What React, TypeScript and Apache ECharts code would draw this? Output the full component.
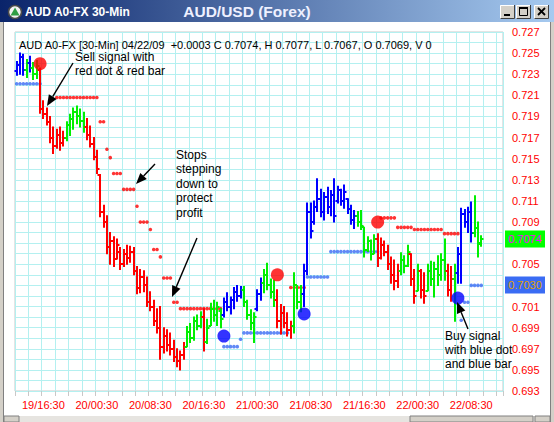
import React, { useEffect, useRef } from 'react';
import * as echarts from 'echarts';

const WIDTH = 554;
const HEIGHT = 422;
const FONT = '"Liberation Sans", Arial, sans-serif';

// 30-minute bars, first bar at 19/12:30
const FIRST_BAR = { day: 19, hour: 12, minute: 30 };
const SLOT_COUNT = 146;
const TICK_LABELS = ['19/16:30', '20/00:30', '20/08:30', '20/16:30', '21/00:30', '21/08:30', '21/16:30', '22/00:30', '22/08:30'];

const Y_MIN = 0.693;
const Y_MAX = 0.727;

const OPEN = [
  0.7233, 0.7239, 0.7246, 0.7234, 0.7241, 0.7236, 0.7230, 0.7234, 0.7197, 0.7192,
  0.7185, 0.7170, 0.7162, 0.7172, 0.7165, 0.7170, 0.7182, 0.7188, 0.7194, 0.7190,
  0.7186, 0.7180, 0.7172, 0.7164, 0.7152, 0.7135, 0.7100, 0.7090, 0.7066, 0.7072,
  0.7055, 0.7062, 0.7050, 0.7060, 0.7056, 0.7062, 0.7044, 0.7028, 0.7038, 0.7030,
  0.7014, 0.7010, 0.6996, 0.6990, 0.6972, 0.6982, 0.6974, 0.6970, 0.6962, 0.6958,
  0.6964, 0.6972, 0.6986, 0.6980, 0.6996, 0.6992, 0.7000, 0.6976, 0.6992, 0.7008,
  0.7002, 0.7006, 0.7002, 0.7014, 0.7010, 0.7016, 0.7024, 0.7020, 0.7026, 0.7014,
  0.7002, 0.6994, 0.7008, 0.7022, 0.7032, 0.7040, 0.7030, 0.7024, 0.7016, 0.6996,
  0.7004, 0.6994, 0.6988, 0.6992, 0.7030, 0.7014, 0.7022, 0.7044, 0.7100, 0.7090,
  0.7104, 0.7112, 0.7100, 0.7114, 0.7104, 0.7116, 0.7110, 0.7120, 0.7110, 0.7112,
  0.7102, 0.7092, 0.7096, 0.7090, 0.7085, 0.7064, 0.7072, 0.7060, 0.7074, 0.7056,
  0.7068, 0.7062, 0.7050, 0.7040, 0.7034, 0.7044, 0.7054, 0.7048, 0.7060, 0.7036,
  0.7025, 0.7044, 0.7026, 0.7025, 0.7044, 0.7036, 0.7046, 0.7040, 0.7054, 0.7044,
  0.7026, 0.7036, 0.7042, 0.7060, 0.7098, 0.7090, 0.7100, 0.7080, 0.7084, 0.7069,
];
const HIGH = [
  0.7242, 0.7250, 0.7249, 0.7244, 0.7247, 0.7241, 0.7243, 0.7236, 0.7205, 0.7198,
  0.7190, 0.7180, 0.7178, 0.7180, 0.7176, 0.7185, 0.7192, 0.7198, 0.7200, 0.7197,
  0.7194, 0.7188, 0.7181, 0.7170, 0.7158, 0.7135, 0.7106, 0.7096, 0.7080, 0.7076,
  0.7074, 0.7066, 0.7064, 0.7068, 0.7067, 0.7066, 0.7048, 0.7045, 0.7044, 0.7038,
  0.7024, 0.7016, 0.7008, 0.7010, 0.6990, 0.6988, 0.6985, 0.6978, 0.6970, 0.6968,
  0.6976, 0.6991, 0.6994, 0.7000, 0.7002, 0.7005, 0.7008, 0.6998, 0.7013, 0.7016,
  0.7014, 0.7008, 0.7018, 0.7023, 0.7019, 0.7028, 0.7030, 0.7029, 0.7029, 0.7016,
  0.7007, 0.7004, 0.7026, 0.7037, 0.7045, 0.7051, 0.7036, 0.7035, 0.7026, 0.7012,
  0.7010, 0.7004, 0.6996, 0.7042, 0.7030, 0.7030, 0.7050, 0.7108, 0.7108, 0.7110,
  0.7131, 0.7121, 0.7118, 0.7123, 0.7120, 0.7131, 0.7124, 0.7121, 0.7125, 0.7112,
  0.7106, 0.7101, 0.7100, 0.7101, 0.7085, 0.7076, 0.7073, 0.7078, 0.7079, 0.7075,
  0.7072, 0.7068, 0.7057, 0.7054, 0.7050, 0.7061, 0.7058, 0.7068, 0.7060, 0.7045,
  0.7050, 0.7045, 0.7042, 0.7050, 0.7053, 0.7052, 0.7058, 0.7060, 0.7074, 0.7050,
  0.7048, 0.7050, 0.7066, 0.7103, 0.7102, 0.7104, 0.7109, 0.7115, 0.7090, 0.7077,
];
const LOW = [
  0.7229, 0.7230, 0.7229, 0.7227, 0.7232, 0.7225, 0.7226, 0.7193, 0.7188, 0.7182,
  0.7165, 0.7155, 0.7160, 0.7158, 0.7162, 0.7167, 0.7172, 0.7178, 0.7183, 0.7180,
  0.7175, 0.7168, 0.7161, 0.7149, 0.7136, 0.7095, 0.7085, 0.7060, 0.7050, 0.7048,
  0.7055, 0.7045, 0.7048, 0.7050, 0.7052, 0.7040, 0.7022, 0.7023, 0.7024, 0.7010,
  0.7006, 0.6992, 0.6985, 0.6960, 0.6966, 0.6968, 0.6964, 0.6958, 0.6953, 0.6950,
  0.6960, 0.6972, 0.6976, 0.6978, 0.6988, 0.6990, 0.6968, 0.6975, 0.6992, 0.6996,
  0.6992, 0.6990, 0.7000, 0.7006, 0.7003, 0.7008, 0.7015, 0.7018, 0.7010, 0.6998,
  0.6988, 0.6976, 0.7006, 0.7016, 0.7023, 0.7026, 0.7018, 0.7010, 0.6990, 0.6984,
  0.6990, 0.6982, 0.6980, 0.6985, 0.7008, 0.7005, 0.7010, 0.7040, 0.7075, 0.7088,
  0.7100, 0.7095, 0.7092, 0.7098, 0.7096, 0.7090, 0.7108, 0.7106, 0.7103, 0.7098,
  0.7088, 0.7084, 0.7086, 0.7083, 0.7057, 0.7062, 0.7054, 0.7060, 0.7048, 0.7055,
  0.7058, 0.7045, 0.7032, 0.7026, 0.7028, 0.7040, 0.7042, 0.7048, 0.7030, 0.7013,
  0.7025, 0.7018, 0.7013, 0.7025, 0.7030, 0.7019, 0.7030, 0.7035, 0.7035, 0.7020,
  0.7015, 0.6996, 0.7032, 0.7032, 0.7085, 0.7080, 0.7071, 0.7076, 0.7057, 0.7067,
];
const CLOSE = [
  0.7239, 0.7246, 0.7234, 0.7241, 0.7236, 0.7230, 0.7238, 0.7197, 0.7192, 0.7185,
  0.7170, 0.7162, 0.7172, 0.7165, 0.7170, 0.7182, 0.7188, 0.7194, 0.7190, 0.7186,
  0.7180, 0.7172, 0.7164, 0.7152, 0.7140, 0.7100, 0.7090, 0.7066, 0.7072, 0.7055,
  0.7068, 0.7050, 0.7060, 0.7056, 0.7062, 0.7044, 0.7028, 0.7038, 0.7030, 0.7014,
  0.7010, 0.6996, 0.6990, 0.6972, 0.6982, 0.6974, 0.6970, 0.6962, 0.6958, 0.6964,
  0.6972, 0.6986, 0.6980, 0.6996, 0.6992, 0.7000, 0.6976, 0.6990, 0.7008, 0.7002,
  0.7010, 0.6998, 0.7014, 0.7010, 0.7016, 0.7024, 0.7020, 0.7026, 0.7014, 0.7002,
  0.6994, 0.7000, 0.7022, 0.7032, 0.7040, 0.7030, 0.7024, 0.7016, 0.6996, 0.7004,
  0.6994, 0.6988, 0.6992, 0.7030, 0.7014, 0.7022, 0.7044, 0.7100, 0.7082, 0.7104,
  0.7112, 0.7100, 0.7114, 0.7104, 0.7116, 0.7096, 0.7120, 0.7110, 0.7118, 0.7102,
  0.7092, 0.7096, 0.7090, 0.7086, 0.7064, 0.7072, 0.7060, 0.7074, 0.7056, 0.7068,
  0.7062, 0.7050, 0.7040, 0.7034, 0.7044, 0.7054, 0.7048, 0.7062, 0.7036, 0.7020,
  0.7044, 0.7026, 0.7020, 0.7044, 0.7036, 0.7046, 0.7040, 0.7054, 0.7044, 0.7026,
  0.7036, 0.7042, 0.7060, 0.7098, 0.7090, 0.7100, 0.7080, 0.7084, 0.7070, 0.7074,
];

// b = long (blue), g = neutral (green), r = short (red)
const BAR_STATE = [
  'bbbgbgg', 'rrrrrrrr', 'gggggg', 'rrrrrrrrrrrrrrrrrrrrrrrrrrrrrr', 'ggggg', 'r', 'ggggg',
  'bbbbbb', 'gggg', 'bb', 'gggg', 'rrrrr', 'ggg', 'bbbbbbbbbbbbbbbb', 'gggggg', 'rrrrrrr',
  'ggg', 'rr', 'g', 'rr', 'gggggg', 'rr', 'g', 'bbbbb', 'ggg',
].join('');

// trailing stops: [first bar, last bar, level]
const RED_STOP_RUNS = [
  [12, 24, 0.7208], [25, 26, 0.7185], [27, 27, 0.7159], [28, 28, 0.7151], [29, 31, 0.7136],
  [32, 35, 0.7121], [36, 36, 0.7105], [37, 39, 0.7090], [40, 40, 0.7083], [41, 42, 0.7064],
  [43, 43, 0.7057], [44, 46, 0.7037], [47, 48, 0.7014], [49, 61, 0.7008], [82, 86, 0.7028],
  [109, 113, 0.7094], [114, 118, 0.7085], [119, 127, 0.7083], [128, 132, 0.7079],
];
const BLUE_STOP_RUNS = [
  [0, 7, 0.7221], [62, 66, 0.6972], [67, 67, 0.6979], [68, 81, 0.6985], [87, 93, 0.7038],
  [94, 108, 0.7062], [133, 133, 0.6997], [134, 135, 0.7014], [136, 139, 0.7030],
];

// signal dots: [bar, price]
const SELL_SIGNALS = [[7, 0.7240], [78, 0.7040], [108, 0.7090]];
const BUY_SIGNALS = [[62, 0.6982], [86, 0.7003], [132, 0.7018]];

const CHANGE = '+0.0003';
const CURRENT_STOP = 0.7030;

const BAR_COLORS: Record<string, string> = { r: '#ff0000', g: '#00f000', b: '#0000ff' };

function pad(n: number) {
  return n < 10 ? '0' + n : String(n);
}

function buildCategories(): string[] {
  const out: string[] = [];
  let day = FIRST_BAR.day;
  let minutes = FIRST_BAR.hour * 60 + FIRST_BAR.minute;
  for (let k = 0; k < SLOT_COUNT; k++) {
    out.push(`${day}/${pad(Math.floor(minutes / 60))}:${pad(minutes % 60)}`);
    minutes += 30;
    if (minutes >= 1440) {
      minutes -= 1440;
      day += 1;
    }
  }
  return out;
}

function expandRuns(runs: number[][]) {
  const pts: number[][] = [];
  runs.forEach(([a, b, level]) => {
    for (let i = a; i <= b; i++) pts.push([i, level]);
  });
  return pts;
}

function arrow(x1: number, y1: number, x2: number, y2: number) {
  const ang = Math.atan2(y2 - y1, x2 - x1);
  const len = 11;
  const half = 4.5;
  const bx = x2 - len * Math.cos(ang);
  const by = y2 - len * Math.sin(ang);
  const px = -Math.sin(ang) * half;
  const py = Math.cos(ang) * half;
  return [
    { type: 'line', z: 50, silent: true, shape: { x1, y1, x2: bx, y2: by }, style: { stroke: '#000', lineWidth: 1.4 } },
    {
      type: 'polygon', z: 50, silent: true,
      shape: { points: [[x2, y2], [bx + px, by + py], [bx - px, by - py]] },
      style: { fill: '#000' },
    },
  ];
}

function textLines(x: number, y0: number, step: number, lines: string[]) {
  return lines.map((t, k) => ({
    type: 'text', z: 50, silent: true, x, y: y0 + k * step,
    style: { text: t, fill: '#000', font: `12px ${FONT}`, lineHeight: 12, verticalAlign: 'middle', align: 'left' },
  }));
}

function button(x: number, y: number, glyph: 'min' | 'max' | 'close') {
  const w = 15;
  const h = 14;
  const parts: any[] = [
    { type: 'rect', z: 100, shape: { x, y, width: w, height: h }, style: { fill: '#d4d0c8' } },
    { type: 'polyline', z: 101, shape: { points: [[x + 0.5, y + h], [x + 0.5, y + 0.5], [x + w, y + 0.5]] }, style: { stroke: '#ffffff', lineWidth: 1, fill: null } },
    { type: 'polyline', z: 101, shape: { points: [[x + 0.5, y + h - 0.5], [x + w - 0.5, y + h - 0.5], [x + w - 0.5, y]] }, style: { stroke: '#404040', lineWidth: 1, fill: null } },
  ];
  if (glyph === 'min') {
    parts.push({ type: 'rect', z: 102, shape: { x: x + 4, y: y + 9, width: 6, height: 2 }, style: { fill: '#000' } });
  } else if (glyph === 'max') {
    parts.push({ type: 'rect', z: 102, shape: { x: x + 3.5, y: y + 2.5, width: 8, height: 8 }, style: { stroke: '#000', lineWidth: 1, fill: null } });
    parts.push({ type: 'rect', z: 102, shape: { x: x + 3, y: y + 2, width: 9, height: 2 }, style: { fill: '#000' } });
  } else {
    parts.push({ type: 'line', z: 102, shape: { x1: x + 4, y1: y + 3, x2: x + 11, y2: y + 10 }, style: { stroke: '#000', lineWidth: 1.8 } });
    parts.push({ type: 'line', z: 102, shape: { x1: x + 11, y1: y + 3, x2: x + 4, y2: y + 10 }, style: { stroke: '#000', lineWidth: 1.8 } });
  }
  return parts;
}

export default function App() {
  const ref = useRef<HTMLDivElement>(null);

  useEffect(() => {
    if (!ref.current) return;
    const chart = echarts.init(ref.current, undefined, { renderer: 'svg' });
    const categories = buildCategories();
    const last = CLOSE.length - 1;
    const lastClose = CLOSE[last];
    const hiddenTicks = [lastClose, CURRENT_STOP].map((v) => Math.round(v * 1000));

    const barData = OPEN.map((o, i) => [i, o, HIGH[i], LOW[i], CLOSE[i]]);

    const option: any = {
      animation: false,
      backgroundColor: '#ffffff',
      grid: {
        left: 15, right: 51, top: 32, bottom: 31,
        show: true, borderColor: '#c8c8c8', borderWidth: 1, backgroundColor: 'transparent',
      },
      xAxis: {
        type: 'category',
        data: categories,
        boundaryGap: true,
        axisLine: { show: false },
        axisTick: { show: true, interval: 3, length: 5, lineStyle: { color: '#c8c8c8' } },
        axisLabel: {
          interval: (_idx: number, val: string) => TICK_LABELS.includes(val),
          color: '#ff0000', fontSize: 11, fontFamily: FONT, margin: 8,
        },
        splitLine: { show: true, interval: 3, lineStyle: { color: '#b4f0f0', width: 1 } },
      },
      yAxis: {
        type: 'value',
        position: 'right',
        min: Y_MIN,
        max: Y_MAX,
        interval: 0.001,
        scale: true,
        axisLine: { show: false },
        axisTick: { show: false },
        axisLabel: {
          color: '#ff0000', fontSize: 11, fontFamily: FONT, margin: 9,
          formatter: (v: number) => {
            const k = Math.round(v * 1000);
            if (k % 2 === 0) return '';
            if (hiddenTicks.includes(k)) return '';
            return (k / 1000).toFixed(3);
          },
        },
        splitLine: { show: true, lineStyle: { color: '#b4f0f0', width: 1 } },
      },
      series: [
        {
          type: 'scatter', name: 'short stop', silent: true, z: 2,
          symbol: 'circle', symbolSize: 3.6,
          itemStyle: { color: '#ff0000' },
          data: expandRuns(RED_STOP_RUNS),
        },
        {
          type: 'scatter', name: 'long stop', silent: true, z: 2,
          symbol: 'circle', symbolSize: 3.6,
          itemStyle: { color: '#3a6cf4' },
          data: expandRuns(BLUE_STOP_RUNS),
        },
        {
          type: 'custom', name: 'bars', silent: true, z: 3,
          encode: { x: 0, y: [1, 2, 3, 4] },
          data: barData,
          renderItem: (_params: any, api: any) => {
            const i = api.value(0);
            const color = BAR_COLORS[BAR_STATE[i]] || '#000';
            const x = Math.round(api.coord([i, api.value(2)])[0]);
            const yh = api.coord([i, api.value(2)])[1];
            const yl = api.coord([i, api.value(3)])[1];
            const yo = Math.round(api.coord([i, api.value(1)])[1]);
            const yc = Math.round(api.coord([i, api.value(4)])[1]);
            return {
              type: 'group',
              children: [
                { type: 'line', shape: { x1: x, y1: yh - 0.5, x2: x, y2: yl + 0.5 }, style: { stroke: color, lineWidth: 2 } },
                { type: 'line', shape: { x1: x - 2.5, y1: yo, x2: x, y2: yo }, style: { stroke: color, lineWidth: 2 } },
                { type: 'line', shape: { x1: x, y1: yc, x2: x + 2.5, y2: yc }, style: { stroke: color, lineWidth: 2 } },
              ],
            };
          },
        },
        {
          type: 'scatter', name: 'sell signal', silent: true, z: 5,
          symbol: 'circle', symbolSize: 13,
          itemStyle: { color: '#ff0000' },
          data: SELL_SIGNALS,
        },
        {
          type: 'scatter', name: 'buy signal', silent: true, z: 5,
          symbol: 'circle', symbolSize: 13,
          itemStyle: { color: '#0000ff' },
          data: BUY_SIGNALS,
        },
      ],
    };
    chart.setOption(option);

    const yClose = chart.convertToPixel({ yAxisIndex: 0 }, lastClose) as number;
    const yStop = chart.convertToPixel({ yAxisIndex: 0 }, CURRENT_STOP) as number;

    const header = `AUD A0-FX [30-Min] 04/22/09  ${CHANGE} C ${CLOSE[last].toFixed(4)}, H ${HIGH[last].toFixed(4)}, L ${LOW[last].toFixed(4)}, O ${OPEN[last].toFixed(4)}, V 0`;

    const graphic: any[] = [
      // window title bar
      {
        type: 'rect', z: 100, silent: true, shape: { x: 0, y: 0, width: WIDTH, height: 22 },
        style: {
          fill: new echarts.graphic.LinearGradient(0, 0, 1, 0, [
            { offset: 0, color: '#0a246a' },
            { offset: 1, color: '#a6caf0' },
          ]),
        },
      },
      { type: 'circle', z: 101, shape: { cx: 15, cy: 12, r: 6.5 }, style: { fill: '#f2f2f2', stroke: '#4a4a4a', lineWidth: 1.5 } },
      { type: 'polygon', z: 102, shape: { points: [[15, 7.5], [19.5, 15.5], [10.5, 15.5]] }, style: { fill: '#2f9e44' } },
      {
        type: 'text', z: 101, silent: true, x: 25, y: 12,
        style: { text: 'AUD A0-FX 30-Min', fill: '#ffffff', font: `bold 12px ${FONT}`, lineHeight: 14, verticalAlign: 'middle', align: 'left' },
      },
      {
        type: 'text', z: 103, silent: true, x: 247, y: 11,
        style: { text: 'AUD/USD (Forex)', fill: '#eef0ff', font: `bold 15.5px ${FONT}`, lineHeight: 17, verticalAlign: 'middle', align: 'center' },
      },
      ...button(500, 5, 'min'),
      ...button(516, 5, 'max'),
      ...button(534, 5, 'close'),
      // window side borders
      { type: 'rect', z: 100, silent: true, shape: { x: 0, y: 22, width: 4, height: HEIGHT - 22 }, style: { fill: '#d4d0c8' } },
      { type: 'rect', z: 100, silent: true, shape: { x: WIDTH - 4, y: 22, width: 4, height: HEIGHT - 22 }, style: { fill: '#d4d0c8' } },
      { type: 'line', z: 101, silent: true, shape: { x1: 3.5, y1: 22, x2: 3.5, y2: HEIGHT }, style: { stroke: '#808080', lineWidth: 1 } },
      { type: 'line', z: 101, silent: true, shape: { x1: WIDTH - 3.5, y1: 22, x2: WIDTH - 3.5, y2: HEIGHT }, style: { stroke: '#808080', lineWidth: 1 } },
      // horizontal scrollbar
      { type: 'rect', z: 100, silent: true, shape: { x: 4, y: 416, width: WIDTH - 8, height: 6 }, style: { fill: '#e6e4e0' } },
      { type: 'rect', z: 101, silent: true, shape: { x: 4, y: 416, width: 15, height: 6 }, style: { fill: '#d4d0c8', stroke: '#808080', lineWidth: 1 } },
      { type: 'rect', z: 101, silent: true, shape: { x: 410, y: 416, width: 123, height: 6 }, style: { fill: '#d4d0c8', stroke: '#808080', lineWidth: 1 } },
      { type: 'rect', z: 101, silent: true, shape: { x: 535, y: 416, width: 15, height: 6 }, style: { fill: '#d4d0c8', stroke: '#808080', lineWidth: 1 } },
      // quote header
      {
        type: 'text', z: 50, silent: true, x: 19, y: 45,
        style: { text: header, fill: '#000', font: `11px ${FONT}`, lineHeight: 11, verticalAlign: 'middle', align: 'left' },
      },
      // last close and current stop boxes on the price scale
      { type: 'rect', z: 60, silent: true, shape: { x: 505, y: Math.round(yClose) - 8.5, width: 40, height: 17 }, style: { fill: '#00ff00' } },
      {
        type: 'text', z: 61, silent: true, x: 525, y: yClose,
        style: { text: lastClose.toFixed(4), fill: '#ff00ff', font: `11px ${FONT}`, align: 'center', verticalAlign: 'middle' },
      },
      { type: 'rect', z: 60, silent: true, shape: { x: 505, y: Math.round(yStop) - 8.5, width: 40, height: 17 }, style: { fill: '#3a6cf4' } },
      {
        type: 'text', z: 61, silent: true, x: 525, y: yStop,
        style: { text: CURRENT_STOP.toFixed(4), fill: '#e0a000', font: `11px ${FONT}`, align: 'center', verticalAlign: 'middle' },
      },
      // annotations
      ...textLines(75, 57, 14, ['Sell signal with', 'red dot & red bar']),
      ...arrow(73, 63, 47, 106),
      ...textLines(176, 155, 14.4, ['Stops', 'stepping', 'down to', 'protect', 'profit']),
      ...arrow(155, 164, 136, 184),
      ...arrow(197, 238, 172, 297),
      ...textLines(445, 336, 14.2, ['Buy signal', 'with blue dot', 'and blue bar']),
      ...arrow(468, 329, 457, 302),
    ];
    chart.setOption({ graphic });

    return () => chart.dispose();
  }, []);

  return (
    <div
      ref={ref}
      style={{ position: 'fixed', left: 0, top: 0, width: WIDTH, height: HEIGHT }}
    />
  );
}
